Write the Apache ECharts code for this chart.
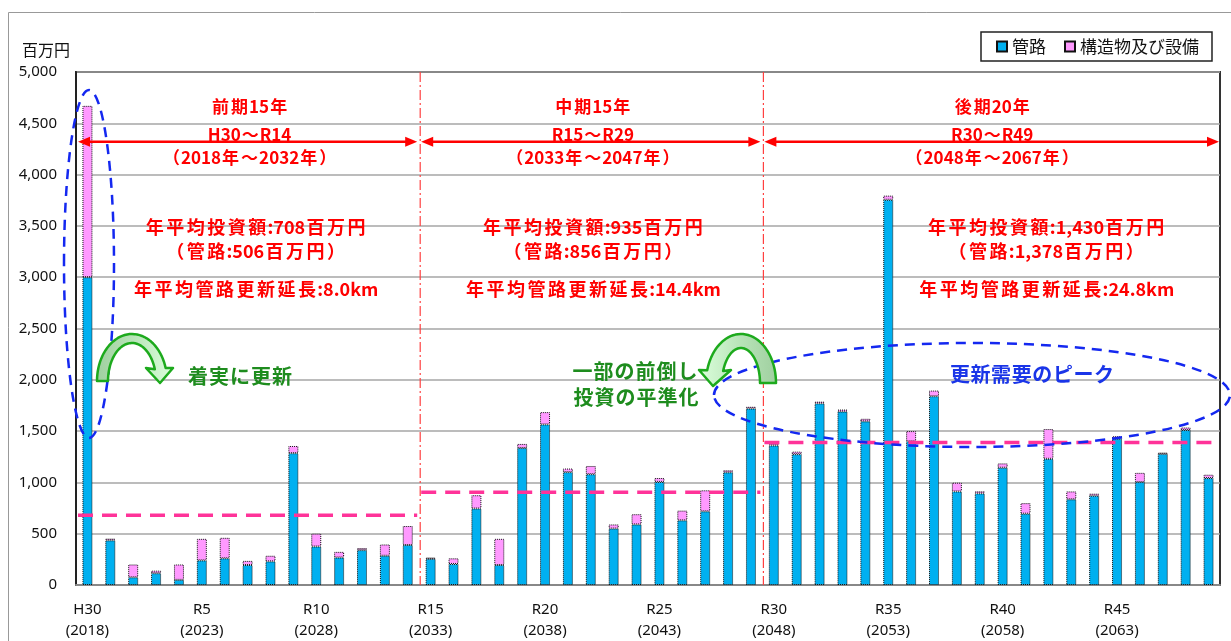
<!DOCTYPE html>
<html><head><meta charset="utf-8">
<script src="https://cdn.jsdelivr.net/npm/echarts@6/dist/echarts.min.js"></script>
<style>html,body{margin:0;padding:0;background:#fff}#c{width:1231px;height:641px}</style>
</head><body><div id="c"></div>
<script>
const categories = ['H30','R1','R2','R3','R4','R5','R6','R7','R8','R9','R10','R11','R12','R13','R14',
  'R15','R16','R17','R18','R19','R20','R21','R22','R23','R24','R25','R26','R27','R28','R29',
  'R30','R31','R32','R33','R34','R35','R36','R37','R38','R39','R40','R41','R42','R43','R44','R45','R46','R47','R48','R49'];
const years = [2018,2019,2020,2021,2022,2023,2024,2025,2026,2027,2028,2029,2030,2031,2032,
  2033,2034,2035,2036,2037,2038,2039,2040,2041,2042,2043,2044,2045,2046,2047,
  2048,2049,2050,2051,2052,2053,2054,2055,2056,2057,2058,2059,2060,2061,2062,2063,2064,2065,2066,2067];
const pipe = [3000,435,75,115,50,240,260,195,230,1285,375,268,340,285,390,
  255,205,745,195,1335,1565,1100,1080,550,590,1005,630,718,1098,1720,
  1360,1275,1770,1690,1595,3755,1400,1840,912,893,1143,695,1230,835,870,1425,1003,1278,1510,1042];
const facilities = [1670,17,125,25,150,210,200,40,55,70,125,55,20,110,185,
  12,55,130,255,40,120,35,80,40,100,38,95,205,20,17,
  20,25,17,20,25,40,100,55,85,20,42,103,290,77,20,25,90,12,25,33];
const seriesNames = ['管路','構造物及び設備'];
const periodStart = [0,15,30];
const periodEnd = [14,29,49];
const periodAvgLine = [680,905,1390];
const periodTitle = ['前期15年','中期15年','後期20年'];
const periodRange = ['H30～R14','R15～R29','R30～R49'];
const periodYears = ['（2018年～2032年）','（2033年～2047年）','（2048年～2067年）'];
const avgInvest = ['年平均投資額:708百万円','年平均投資額:935百万円','年平均投資額:1,430百万円'];
const avgPipe = ['（管路:506百万円）','（管路:856百万円）','（管路:1,378百万円）'];
const avgLength = ['年平均管路更新延長:8.0km','年平均管路更新延長:14.4km','年平均管路更新延長:24.8km'];
const noteSteady = '着実に更新';
const noteLevel = ['一部の前倒し','投資の平準化'];
const notePeak = '更新需要のピーク';

const JPF = "'Noto Sans CJK JP'";
const JP = JPF + ", 'Noto Sans', sans-serif";
const chart = echarts.init(document.getElementById('c'), null, {renderer:'canvas'});
const barBorder = {borderColor:'#111', borderWidth:1, borderType:'dotted'};
chart.setOption({
  animation:false,
  textStyle:{fontFamily:JP},
  grid:{left:76,right:11,top:72,bottom:55,show:true,borderColor:'#333',borderWidth:2,backgroundColor:'transparent'},
  legend:{left:981,top:32,itemWidth:10,itemHeight:10,itemGap:18,padding:[6,13,6,15],
    borderColor:'#222',borderWidth:1.5,icon:'rect',
    textStyle:{fontSize:17,color:'#111',fontFamily:JP}},
  xAxis:{type:'category',data:categories,
    axisLine:{lineStyle:{color:'#888',width:2}},axisTick:{show:false},
    axisLabel:{interval:4,margin:14,fontSize:15,lineHeight:21,color:'#111',fontFamily:"'Noto Sans', sans-serif",
      formatter:(v,i)=>v+'\n('+years[i]+')'}},
  yAxis:{type:'value',min:0,max:5000,interval:500,
    axisLine:{show:true,lineStyle:{color:'#222',width:2}},axisTick:{show:false},
    splitLine:{lineStyle:{color:'#a6a6a6',width:1.5}},
    axisLabel:{margin:19,fontSize:15,color:'#111',fontFamily:"'Noto Sans', sans-serif",
      formatter:v=>v.toLocaleString('en-US')}},
  series:[
    {name:seriesNames[0],type:'bar',stack:'t',barWidth:10,data:pipe,itemStyle:Object.assign({color:'#00B0F0'},barBorder)},
    {name:seriesNames[1],type:'bar',stack:'t',barWidth:10,data:facilities,itemStyle:Object.assign({color:'#FF99FF'},barBorder)}
  ]
});

const px = (i,v)=>chart.convertToPixel({gridIndex:0},[i,v]);
const cw = px(1,0)[0]-px(0,0)[0];
const yTop = px(0,5000)[1], yBot = px(0,0)[1];
const leftB = i => px(i,0)[0]-cw/2;
const g = [];
const RED = '#FF0000';
const mctx = document.createElement('canvas').getContext('2d');
function isWide(ch){const c=ch.charCodeAt(0);return c>=0x2E80;}
function spaced(str,cx,y,size,adv,color,z){
  const font = 'bold '+size+'px '+JPF;
  mctx.font = font;
  const chars = Array.from(str);
  const ws = chars.map(ch=>isWide(ch)?adv:mctx.measureText(ch).width);
  const total = ws.reduce((a,b)=>a+b,0);
  let x = cx-total/2;
  chars.forEach((ch,k)=>{
    const w = mctx.measureText(ch).width;
    g.push({type:'text',style:{text:ch,x:x+(ws[k]-w)/2,y:y,align:'left',verticalAlign:'middle',
      fontSize:size,fontWeight:'bold',fill:color,fontFamily:JP},z:z||21,silent:true});
    x += ws[k];
  });
}
// outer frame
g.push({type:'rect',shape:{x:8.5,y:12.5,width:1300,height:700},style:{fill:null,stroke:'#999',lineWidth:1},silent:true,z:1});
g.push({type:'text',style:{text:'百万円',x:22,y:50,verticalAlign:'middle',fontSize:16,fill:'#111',fontFamily:JP},silent:true});
const arrowY = px(0,4320)[1];
for (let p=0;p<3;p++){
  const x0 = leftB(periodStart[p])+2;
  const x1 = leftB(periodEnd[p]+1)-(p===2?1:2);
  const ya = px(0,periodAvgLine[p])[1];
  g.push({type:'line',shape:{x1:x0,y1:ya,x2:x1,y2:ya},style:{stroke:'#FF3399',lineWidth:3.5,lineDash:[15,9]},z:20,silent:true});
  g.push({type:'line',shape:{x1:x0+8,y1:arrowY,x2:x1-8,y2:arrowY},style:{stroke:RED,lineWidth:2.5},z:20,silent:true});
  g.push({type:'polygon',shape:{points:[[x0,arrowY],[x0+12,arrowY-5],[x0+12,arrowY+5]]},style:{fill:RED},z:20,silent:true});
  g.push({type:'polygon',shape:{points:[[x1,arrowY],[x1-12,arrowY-5],[x1-12,arrowY+5]]},style:{fill:RED},z:20,silent:true});
  const cx = (leftB(periodStart[p])+leftB(periodEnd[p]+1))/2;
  const tOff = [2,2,1][p], sOff = [8,2,55][p];
  spaced(periodTitle[p],cx+tOff,107,17,19,RED);
  spaced(periodRange[p],cx+tOff,135,17,19,RED);
  spaced(periodYears[p],cx+tOff,158,17,19,RED);
  spaced(avgInvest[p],cx+sOff,227,18,20.5,RED);
  spaced(avgPipe[p],cx+sOff,251,18,20.5,RED);
  spaced(avgLength[p],cx+sOff,289,18,20.5,RED);
}
[15,30].forEach(i=>{
  const x = leftB(i)+1;
  g.push({type:'line',shape:{x1:x,y1:yTop,x2:x,y2:yBot},style:{stroke:'#FF4040',lineWidth:1.2,lineDash:[10,3,2,3]},z:19,silent:true});
});
g.push({type:'ellipse',shape:{cx:89,cy:264,rx:25,ry:174},style:{fill:null,stroke:'#1428F0',lineWidth:2.5,lineDash:[10,7]},z:22,silent:true});
g.push({type:'ellipse',shape:{cx:972,cy:395,rx:258,ry:52},style:{fill:null,stroke:'#1428F0',lineWidth:2.5,lineDash:[10,7]},z:22,silent:true});
// green curved arrows as polygons
function arc(cx,cy,rx,ry,a0,a1,n){
  const pts=[];for(let k=0;k<=n;k++){const a=(a0+(a1-a0)*k/n)*Math.PI/180;pts.push([cx+rx*Math.cos(a),cy-ry*Math.sin(a)]);}return pts;
}
const arrow1 = arc(132,381,35,47,180,16,40).concat([[173,368],[160,383],[146,368]]).concat(arc(132,381,24,38,18,180,40));
const arrow2 = arc(741,383,35,49,0,165,40).concat([[699,370],[713,386],[731,370]]).concat(arc(741,383,19,35,160,0,40));
const grad1 = {type:'linear',x:0,y:0,x2:1,y2:0,global:false,colorStops:[{offset:0,color:'#9fcf9f'},{offset:0.45,color:'#b7e3b7'},{offset:1,color:'#dcffdc'}]};
const grad2 = {type:'linear',x:0,y:0,x2:1,y2:0,global:false,colorStops:[{offset:0,color:'#dcffdc'},{offset:0.55,color:'#b7e3b7'},{offset:1,color:'#9fcf9f'}]};
g.push({type:'polygon',shape:{points:arrow1},style:{fill:grad1,stroke:'#1DAA1D',lineWidth:2.5,lineJoin:'round'},z:23,silent:true});
g.push({type:'polygon',shape:{points:arrow2},style:{fill:grad2,stroke:'#1DAA1D',lineWidth:2.5,lineJoin:'round'},z:23,silent:true});
const GREEN = '#1E8C1E';
spaced(noteSteady,240,376,20,21,GREEN,24);
spaced(noteLevel[0],635,371,20,21,GREEN,24);
spaced(noteLevel[1],636,397,20,21,GREEN,24);
spaced(notePeak,1032,374,20,20.6,'#1a35e8',24);
chart.setOption({graphic:{elements:g}});
</script></body></html>
